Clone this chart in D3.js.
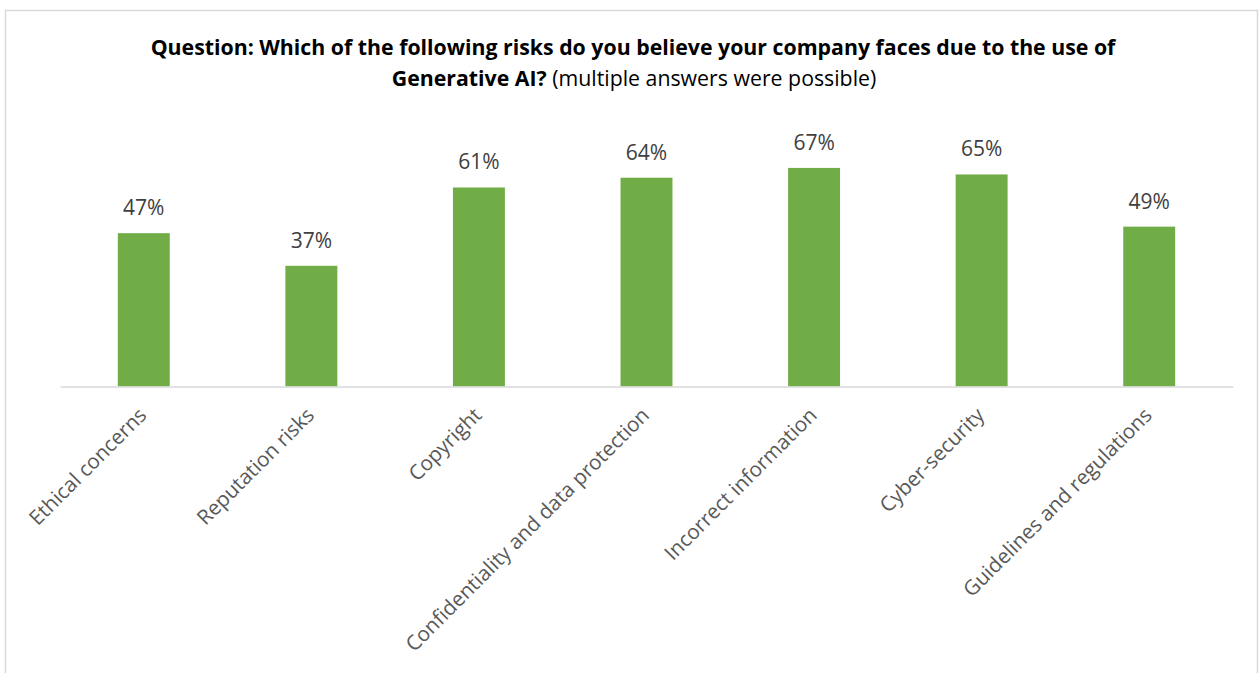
<!DOCTYPE html>
<html>
<head>
<meta charset="utf-8">
<script src="https://cdn.jsdelivr.net/npm/d3@7"></script>
<style>
  body { margin: 0; background: #fff; }
  text { font-family: "Open Sans", sans-serif; }
</style>
</head>
<body>
<div id="chart"></div>
<script>
let width = 1259, height = 673

// data
let categories = ['Ethical concerns', 'Reputation risks', 'Copyright',
  'Confidentiality and data protection', 'Incorrect information',
  'Cyber-security', 'Guidelines and regulations']
let shares = [47, 37, 61, 64, 67, 65, 49]
let titleBold = ['Question: Which of the following risks do you believe your company faces due to the use of',
  'Generative AI?']
let titleNormal = ' (multiple answers were possible)'

let svg = d3.select('#chart')
  .append('svg')
  .attr('width', width)
  .attr('height', height)

// chart border (bottom/right run off the picture)
svg.append('rect')
  .attr('x', 5.5)
  .attr('y', 10.5)
  .attr('width', 1252)
  .attr('height', 700)
  .attr('fill', '#fff')
  .attr('stroke', '#d9d9d9')
  .attr('stroke-width', 1.5)

let x = d3.scaleBand()
  .domain(categories)
  .range([60, 1233])
  .paddingInner(0.69)
  .paddingOuter(0.345)

let y = d3.scaleLinear()
  .domain([0, 80])
  .range([386.5, 125.5])

// title
let title = svg.append('text')
  .attr('text-anchor', 'middle')
  .attr('fill', '#000')
  .style('font-family', '"Open Sans", sans-serif')
  .style('font-size', '21.3px')
title.append('tspan')
  .attr('x', 633)
  .attr('y', 55)
  .attr('font-weight', 'bold')
  .text(titleBold[0])
let line2 = title.append('tspan')
  .attr('x', 634)
  .attr('y', 86)
line2.append('tspan').attr('font-weight', 'bold').text(titleBold[1])
line2.append('tspan').text(titleNormal)

// bars
svg.append('g')
  .selectAll('rect')
  .data(shares)
  .enter()
  .append('rect')
  .attr('x', (d, i) => x(categories[i]))
  .attr('y', d => y(d))
  .attr('width', x.bandwidth())
  .attr('height', d => y(0) - y(d))
  .attr('fill', '#70ad47')

// value labels
svg.append('g')
  .selectAll('text')
  .data(shares)
  .enter()
  .append('text')
  .attr('x', (d, i) => x(categories[i]) + x.bandwidth() / 2)
  .attr('y', d => y(d) - 18)
  .attr('text-anchor', 'middle')
  .attr('fill', '#404040')
  .style('font-size', '21px')
  .text(d => d + '%')

// x axis
let axis = svg.append('g')
  .attr('transform', `translate(0, ${y(0)})`)
  .call(d3.axisBottom(x).tickSize(0).tickSizeOuter(0))
axis.select('.domain')
  .attr('stroke', '#d9d9d9')
  .attr('stroke-width', 1.5)
axis.selectAll('.tick text')
  .attr('text-anchor', 'end')
  .attr('fill', '#595959')
  .attr('y', 0)
  .attr('dy', 0)
  .attr('transform', 'translate(4, 30) rotate(-45)')
  .style('font-family', '"Open Sans", sans-serif')
  .style('font-size', '20.6px')
</script>
</body>
</html>
